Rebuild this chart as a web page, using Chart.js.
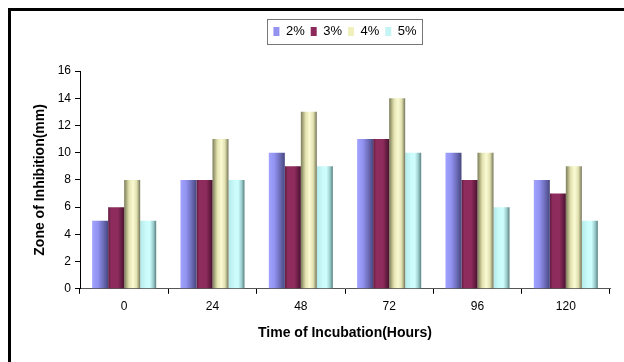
<!DOCTYPE html>
<html>
<head>
<meta charset="utf-8">
<script src="https://cdn.jsdelivr.net/npm/chart.js@4/dist/chart.umd.min.js"></script>
<style>
  html, body { margin: 0; padding: 0; background: #fff; }
  #frame { position: absolute; left: 0; top: 0; width: 624px; height: 362px; overflow: hidden; }
  #border { position: absolute; left: 8px; top: 8px; width: 700px; height: 500px;
            border-left: 3px solid #000; border-top: 3px solid #000; }
  #wrap { position: absolute; left: 0; top: 0; width: 624px; height: 362px; }
</style>
</head>
<body>
<div id="frame">
  <div id="border"></div>
  <div id="wrap"><canvas id="c" width="624" height="362"></canvas></div>
</div>
<script>
// Incubation times (hours) and inhibition zones (mm) per concentration
const hours = ['0', '24', '48', '72', '96', '120'];
const conc2 = [5, 8, 10, 11, 10, 8];
const conc3 = [6, 8, 9, 11, 8, 7];
const conc4 = [8, 11, 13, 14, 10, 9];
const conc5 = [5, 8, 9, 10, 6, 5];
const seriesNames = ['2%', '3%', '4%', '5%'];

const CAT_PCT = 0.725;
const FONT = 'Liberation Sans, Arial, sans-serif';

// Shaded fills, left to right across each bar
const shades = [
  { solid: '#9494f0', stops: [[0, '#a2a2ff'], [0.35, '#9292f2'], [0.7, '#6c6cb8'], [1, '#474780']] },
  { solid: '#8c2b5b', stops: [[0, '#5e1a3e'], [0.18, '#8e2c5d'], [0.6, '#8e2c5d'], [1, '#4a1230']] },
  { solid: '#f0f0bc', stops: [[0, '#7c7c58'], [0.3, '#e2e2b0'], [0.55, '#fbfbd4'], [0.78, '#e0e0b0'], [1, '#76765a']] },
  { solid: '#c4f4f4', stops: [[0, '#b4eaea'], [0.35, '#cafafa'], [0.6, '#cffefe'], [0.82, '#9ccccc'], [1, '#5a8282']] }
];

function shadedFill(si) {
  return (ctx) => {
    const chart = ctx.chart;
    const xs = chart.scales && chart.scales.x;
    if (ctx.type !== 'data' || !xs || !xs.width) return shades[si].solid;
    const n = chart.data.datasets.length;
    const catW = xs.width / hours.length;
    const barW = catW * CAT_PCT / n;
    const cx = xs.getPixelForValue(ctx.dataIndex) + (ctx.datasetIndex - (n - 1) / 2) * barW;
    const g = chart.ctx.createLinearGradient(cx - barW / 2, 0, cx + barW / 2, 0);
    shades[si].stops.forEach(s => g.addColorStop(s[0], s[1]));
    return g;
  };
}

const values = [conc2, conc3, conc4, conc5];

// Extra room below the legend, and a gray frame around its entries
const legendFrame = {
  id: 'legendFrame',
  afterInit(chart) {
    const lg = chart.legend;
    if (!lg || lg._spaced) return;
    const fit = lg.fit;
    lg.fit = function () {
      fit.call(this);
      this.height += 23;
    };
    lg._spaced = true;
  },
  afterDraw(chart) {
    const lg = chart.legend;
    if (!lg || !lg.legendHitBoxes || !lg.legendHitBoxes.length) return;
    const hb = lg.legendHitBoxes;
    const x0 = Math.min(...hb.map(b => b.left)) - 6;
    const x1 = Math.max(...hb.map(b => b.left + b.width)) + 6;
    const y0 = Math.min(...hb.map(b => b.top)) - 6;
    const y1 = Math.max(...hb.map(b => b.top + b.height)) + 6;
    const c = chart.ctx;
    c.save();
    c.strokeStyle = '#777';
    c.lineWidth = 1;
    c.strokeRect(Math.round(x0) + 0.5, Math.round(y0) + 0.5, Math.round(x1 - x0), Math.round(y1 - y0));
    c.restore();
  }
};

new Chart(document.getElementById('c'), {
  type: 'bar',
  data: {
    labels: hours,
    datasets: values.map((v, i) => ({
      label: seriesNames[i],
      data: v,
      backgroundColor: shadedFill(i),
      borderWidth: 0,
      categoryPercentage: CAT_PCT,
      barPercentage: 1
    }))
  },
  options: {
    responsive: false,
    animation: false,
    devicePixelRatio: 1,
    layout: { padding: { left: 32, right: 14, top: 19, bottom: 20 } },
    plugins: {
      tooltip: { enabled: false },
      legend: {
        position: 'top',
        fullSize: false,
        labels: {
          font: { family: FONT, size: 13 },
          color: '#000',
          boxWidth: 6,
          boxHeight: 9,
          padding: 6,
          generateLabels(chart) {
            return chart.data.datasets.map((d, i) => ({
              text: d.label,
              fillStyle: shades[i].solid,
              strokeStyle: shades[i].solid,
              lineWidth: 0,
              datasetIndex: i,
              hidden: false
            }));
          }
        }
      }
    },
    scales: {
      x: {
        grid: { display: true, drawOnChartArea: false, drawTicks: true, tickLength: 5, color: '#000', offset: true },
        border: { display: true, color: '#555', width: 1 },
        ticks: { color: '#000', font: { family: FONT, size: 12 }, padding: 6 },
        title: {
          display: true,
          text: 'Time of Incubation(Hours)',
          color: '#000',
          font: { family: FONT, size: 14, weight: 'bold' },
          padding: { top: 5, bottom: 0 }
        }
      },
      y: {
        min: 0,
        max: 16,
        afterFit(scale) { scale.width = 48; },
        ticks: { stepSize: 2, color: '#000', font: { family: FONT, size: 12 }, padding: 4 },
        grid: { display: true, drawOnChartArea: false, drawTicks: true, tickLength: 5, color: '#000' },
        border: { display: true, color: '#000', width: 1 },
        title: {
          display: true,
          text: 'Zone of Inhibition(mm)',
          color: '#000',
          font: { family: FONT, size: 14, weight: 'bold' },
          padding: { top: 0, bottom: 10 }
        }
      }
    }
  },
  plugins: [legendFrame]
});
</script>
</body>
</html>
